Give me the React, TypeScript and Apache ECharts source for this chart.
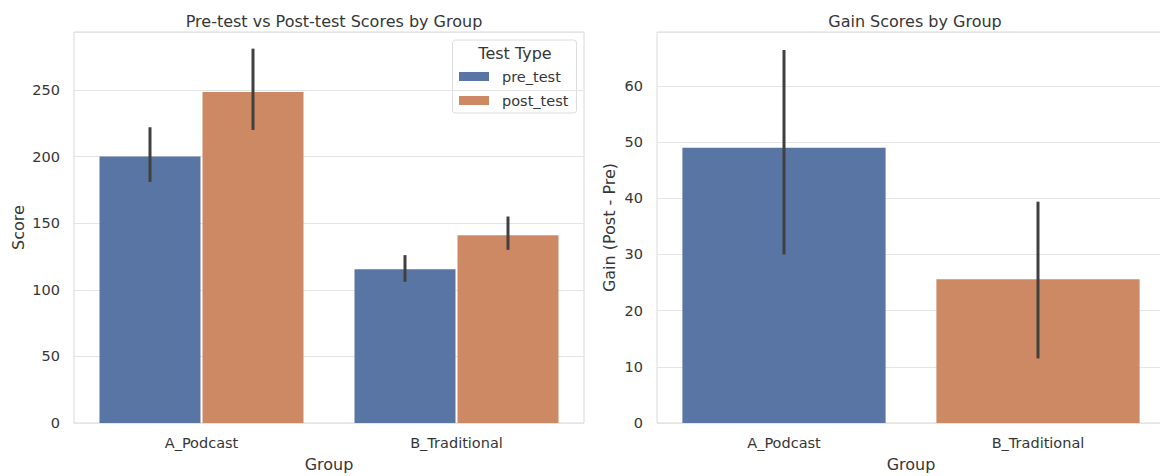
import React, { useEffect, useRef } from "react";
import * as echarts from "echarts";

const groups = ["A_Podcast", "B_Traditional"];
const testTypes = ["pre_test", "post_test"];
const preScores = [200, 115.5];
const postScores = [248.5, 141];
const preCI: [number, number][] = [[181, 222], [106, 126]];
const postCI: [number, number][] = [[220, 281], [130, 155]];
const gains = [49, 25.6];
const gainCI: [number, number][] = [[30, 66.4], [11.5, 39.4]];
const scoreTicks = [0, 50, 100, 150, 200, 250];
const gainTicks = [0, 10, 20, 30, 40, 50, 60];

const BLUE = "#5975a4";
const ORANGE = "#cc8963";
const ERR = "#404040";
const TXT = "#363636";
const GRIDC = "#e4e4e4";
const FONT = "DejaVu Sans";

export default function App() {
  const ref = useRef<HTMLDivElement>(null);
  useEffect(() => {
    if (!ref.current) return;
    const chart = echarts.init(ref.current, undefined, { renderer: "svg" });
    const errData: number[][] = [];
    groups.forEach((_, i) => {
      errData.push([i, preCI[i][0], preCI[i][1], 0]);
      errData.push([i, postCI[i][0], postCI[i][1], 1]);
    });
    const gainErr = groups.map((_, i) => [i, gainCI[i][0], gainCI[i][1]]);
    const barGap = 0.02;
    const yAxisCommon = {
      type: "value",
      min: 0,
      axisLine: { show: false },
      axisTick: { show: false },
      splitLine: { show: true, lineStyle: { color: GRIDC, width: 1 } },
      axisLabel: { color: TXT, fontSize: 14.5, fontFamily: FONT, margin: 14, showMaxLabel: false },
      nameLocation: "middle",
      nameTextStyle: { color: TXT, fontSize: 16, fontFamily: FONT },
    };
    const xAxisCommon = {
      type: "category",
      data: groups,
      axisLine: { show: false },
      axisTick: { show: false },
      splitLine: { show: false },
      axisLabel: { color: TXT, fontSize: 14.5, fontFamily: FONT, margin: 12 },
      name: "Group",
      nameLocation: "middle",
      nameGap: 33,
      nameTextStyle: { color: TXT, fontSize: 16, fontFamily: FONT },
    };
    chart.setOption({
      animation: false,
      backgroundColor: "#ffffff",
      textStyle: { fontFamily: FONT },
      title: [
        {
          text: "Pre-test vs Post-test Scores by Group",
          left: 329,
          top: 8,
          textAlign: "center",
          textStyle: { color: TXT, fontSize: 16, fontWeight: "normal", fontFamily: FONT },
        },
        {
          text: "Gain Scores by Group",
          left: 910,
          top: 8,
          textAlign: "center",
          textStyle: { color: TXT, fontSize: 16, fontWeight: "normal", fontFamily: FONT },
        },
      ],
      grid: [
        {
          left: 74, width: 510, top: 32, bottom: 53, show: true,
          borderColor: "#d9d9d9", borderWidth: 1, outerBoundsMode: "none",
        },
        {
          left: 657, width: 508, top: 32, bottom: 53, show: true,
          borderColor: "#d9d9d9", borderWidth: 1, outerBoundsMode: "none",
        },
      ],
      xAxis: [
        { ...xAxisCommon, gridIndex: 0 },
        { ...xAxisCommon, gridIndex: 1 },
      ],
      yAxis: [
        {
          ...yAxisCommon,
          gridIndex: 0,
          max: 293.5,
          interval: scoreTicks[1] - scoreTicks[0],
          name: "Score",
          nameGap: 48,
        },
        {
          ...yAxisCommon,
          gridIndex: 1,
          max: 69.6,
          interval: gainTicks[1] - gainTicks[0],
          name: "Gain (Post - Pre)",
          nameGap: 40,
        },
      ],
      legend: {
        data: testTypes,
        orient: "vertical",
        left: 459,
        top: 69,
        padding: 0,
        itemWidth: 30,
        itemHeight: 9,
        itemGap: 9,
        icon: "rect",
        textStyle: { color: TXT, fontSize: 14.5, fontFamily: FONT, lineHeight: 14, padding: [0, 0, 0, 8] },
      },
      graphic: [
        {
          type: "rect",
          shape: { x: 452.5, y: 40, width: 124, height: 73, r: 3 },
          style: { fill: "rgba(255,255,255,0.85)", stroke: "#dcdcdc", lineWidth: 1 },
          z: 0,
          zlevel: 0,
        },
        {
          type: "text",
          x: 515,
          y: 53,
          style: {
            text: "Test Type",
            fill: TXT,
            fontSize: 16,
            fontFamily: FONT,
            textAlign: "center",
            textVerticalAlign: "middle",
          },
        },
      ],
      series: [
        {
          type: "bar",
          name: testTypes[0],
          xAxisIndex: 0,
          yAxisIndex: 0,
          data: preScores,
          barCategoryGap: "20%",
          barGap: barGap * 100 + "%",
          itemStyle: { color: BLUE },
        },
        {
          type: "bar",
          name: testTypes[1],
          xAxisIndex: 0,
          yAxisIndex: 0,
          data: postScores,
          barCategoryGap: "20%",
          barGap: barGap * 100 + "%",
          itemStyle: { color: ORANGE },
        },
        {
          type: "custom",
          xAxisIndex: 0,
          yAxisIndex: 0,
          data: errData,
          encode: { x: 0, y: [1, 2] },
          z: 10,
          renderItem: (params: any, api: any) => {
            const cat = api.value(0);
            const lo = api.value(1);
            const hi = api.value(2);
            const s = api.value(3);
            const band = api.size([1, 0])[0];
            const bw = (band * 0.8) / (2 + barGap);
            const off = (s === 0 ? -1 : 1) * bw * (1 + barGap) / 2;
            const p1 = api.coord([cat, lo]);
            const p2 = api.coord([cat, hi]);
            return {
              type: "line",
              shape: { x1: p1[0] + off, y1: p1[1], x2: p2[0] + off, y2: p2[1] },
              style: { stroke: ERR, lineWidth: 3 },
            };
          },
        },
        {
          type: "bar",
          name: "gain",
          xAxisIndex: 1,
          yAxisIndex: 1,
          barCategoryGap: "20%",
          data: gains.map((v, i) => ({ value: v, itemStyle: { color: i === 0 ? BLUE : ORANGE } })),
        },
        {
          type: "custom",
          xAxisIndex: 1,
          yAxisIndex: 1,
          data: gainErr,
          encode: { x: 0, y: [1, 2] },
          z: 10,
          renderItem: (params: any, api: any) => {
            const cat = api.value(0);
            const p1 = api.coord([cat, api.value(1)]);
            const p2 = api.coord([cat, api.value(2)]);
            return {
              type: "line",
              shape: { x1: p1[0], y1: p1[1], x2: p2[0], y2: p2[1] },
              style: { stroke: ERR, lineWidth: 3 },
            };
          },
        },
      ],
    });
    return () => chart.dispose();
  }, []);
  return (
    <div
      ref={ref}
      style={{ position: "fixed", left: 0, top: 0, width: 1160, height: 476, background: "#fff" }}
    />
  );
}
